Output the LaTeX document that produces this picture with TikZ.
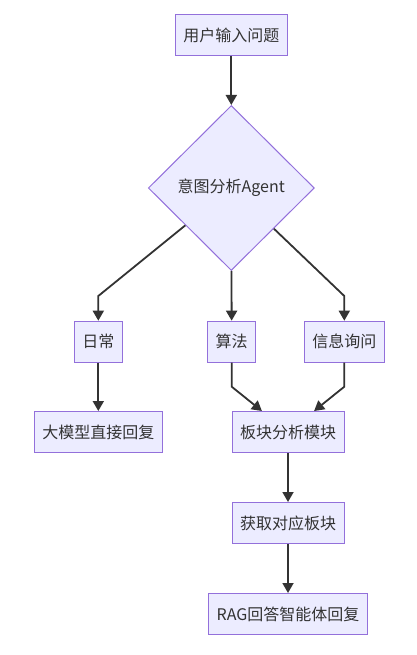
\documentclass[tikz,border=0pt]{standalone}
\usepackage{fontspec}
\newfontfamily\cjk{Noto Sans CJK SC}
\usetikzlibrary{shapes.geometric,arrows.meta}
\definecolor{boitefond}{HTML}{ECECFF}
\definecolor{boitebord}{HTML}{9370DB}
\definecolor{trait}{HTML}{333333}
\tikzset{
  boite/.style={rectangle, draw=boitebord, fill=boitefond, line width=1pt,
    minimum height=41pt, inner xsep=8pt, text=trait,
    font=\cjk\fontsize{16}{19}\selectfont},
  losange/.style={diamond, draw=boitebord, fill=boitefond, line width=1pt,
    minimum width=166pt, minimum height=165pt, inner sep=0pt, text=trait,
    font=\cjk\fontsize{16}{19}\selectfont},
  fleche/.style={draw=trait, line width=1.8pt,
    -{Triangle[length=10pt,width=11pt]}}
}
\begin{document}
\begin{tikzpicture}[x=1pt, y=-1pt]
    % Cadre de la figure
    \useasboundingbox (0,0) rectangle (417,655);

    % Question et analyse de l'intention
    \node[boite] (question) at (231.3,35) {用户输入问题};
    \node[losange] (intention) at (231.3,188) {意图分析Agent};

    % Trois types de question
    \node[boite] (quotidien) at (98.3,341.7) {日常};
    \node[boite] (algo) at (231.7,341.7) {算法};
    \node[boite] (info) at (344.3,341.7) {信息询问};

    % Modules de réponse
    \node[boite] (direct) at (98.3,432) {大模型直接回复};
    \node[boite] (module) at (288,432) {板块分析模块};
    \node[boite] (obtenir) at (288,523) {获取对应板块};
    \node[boite] (rag) at (288,614) {RAG回答智能体回复};

    % Points de coude des flèches
    \coordinate (c1) at (98.3,296);
    \coordinate (c2) at (344.3,296);
    \coordinate (c3) at (231.7,386.7);
    \coordinate (c4) at (344.3,386.7);

    % Flèches
    \draw[fleche] (question) -- (intention);
    \draw[fleche] (intention) -- (c1) -- (quotidien);
    \draw[fleche] (intention) -- (algo);
    \draw[fleche] (intention) -- (c2) -- (info);
    \draw[fleche] (quotidien) -- (direct);
    \draw[fleche] (algo) -- (c3) -- (module);
    \draw[fleche] (info) -- (c4) -- (module);
    \draw[fleche] (module) -- (obtenir);
    \draw[fleche] (obtenir) -- (rag);
\end{tikzpicture}
\end{document}
